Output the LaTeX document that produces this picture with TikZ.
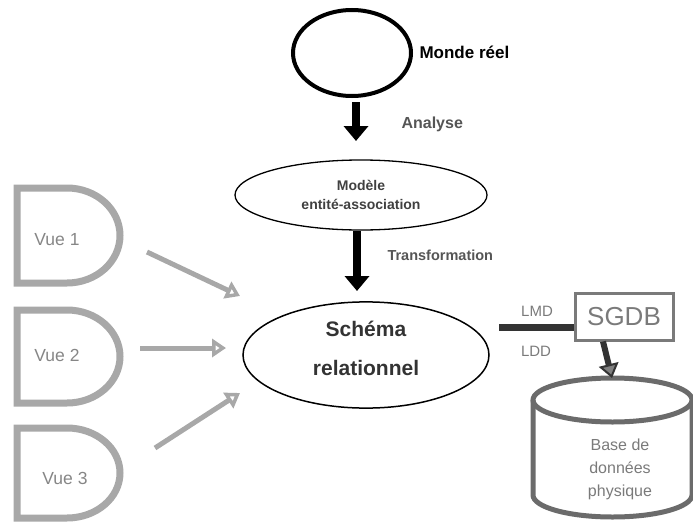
\documentclass[tikz,border=0pt]{standalone}
\usepackage{fontspec}
\setmainfont{Liberation Sans}
\usetikzlibrary{shapes.geometric,arrows.meta}
\definecolor{vuegray}{HTML}{A8A8A8}
\definecolor{txtgray}{HTML}{555555}
\definecolor{boxgray}{HTML}{7A7A7A}
\definecolor{dbgray}{HTML}{6B6B6B}
\begin{document}
\begin{tikzpicture}[x=1pt, y=-1pt,
  blackarrow/.style={line width=8pt, -{Triangle[length=15pt,width=24pt]}},
  grayarrow/.style={draw=vuegray, line width=5pt, -{Triangle[open,length=14pt,width=18pt,line width=3.5pt]}},
  vuebox/.style={draw=vuegray, line width=7pt},
  vuetext/.style={text=vuegray!80!black, font=\fontsize{17.5}{20}\selectfont}]
\useasboundingbox (0,0) rectangle (693,522);
% monde reel
\node[ellipse, draw, line width=4pt, minimum width=118pt, minimum height=86pt] (monde) at (352,53){};
\node[anchor=west, font=\bfseries\fontsize{17}{20}\selectfont] (mondelbl) at (416,52){Monde réel};
% modele entite-association
\node[ellipse, draw, line width=1.3pt, minimum width=252pt, minimum height=70pt, align=center, text=black!75, font=\bfseries\fontsize{14}{19}\selectfont] (modele) at (361,195){Modèle\\entité-association};
\coordinate (a0) at (356,102);
\coordinate (a1) at (356,141);
\draw[blackarrow](a0) -- (a1);
\node[anchor=west, text=txtgray, font=\bfseries\fontsize{16}{18}\selectfont] (analyse) at (398,124){Analyse};
% schema relationnel
\node[ellipse, draw, line width=1.5pt, minimum width=246pt, minimum height=106pt, align=center, text depth=14pt, text=black!80, font=\bfseries\fontsize{21}{39}\selectfont] (schema) at (366,355){Schéma\\relationnel};
\coordinate (t0) at (357,231);
\coordinate (t1) at (357,291);
\draw[blackarrow](t0) -- (t1);
\node[anchor=west, text=txtgray, font=\bfseries\fontsize{14.5}{18}\selectfont] (transfo) at (384,255){Transformation};
% vues
\draw[vuebox] (17,188) -- (67,188) arc[start angle=90, end angle=-90, x radius=53pt, y radius=47.5pt] -- (17,283) -- cycle;
\draw[vuebox] (17,310) -- (67,310) arc[start angle=90, end angle=-90, x radius=53pt, y radius=46.5pt] -- (17,403) -- cycle;
\draw[vuebox] (17,428) -- (67,428) arc[start angle=90, end angle=-90, x radius=53pt, y radius=45pt] -- (17,518) -- cycle;
\node[vuetext] (vue1) at (57,240){Vue 1};
\node[vuetext] (vue2) at (57,355){Vue 2};
\node[vuetext] (vue3) at (65,478){Vue 3};
\coordinate (v1a) at (147,252);
\coordinate (v1b) at (240,296);
\coordinate (v2a) at (140,348);
\coordinate (v2b) at (226,348);
\coordinate (v3a) at (155,448);
\coordinate (v3b) at (240,393);
\draw[grayarrow](v1a) -- (v1b);
\draw[grayarrow](v2a) -- (v2b);
\draw[grayarrow](v3a) -- (v3b);
% SGDB
\node[draw=boxgray, line width=3pt, minimum width=98pt, minimum height=47pt, text=boxgray, font=\fontsize{26}{28}\selectfont] (sgdb) at (624,316.5){SGDB};
\coordinate (lmd) at (499,327);
\draw[black!80, line width=7pt](lmd) -- (lmd -| sgdb.west);
\node[text=boxgray, font=\fontsize{15}{18}\selectfont] (lmdlbl) at (537,311){LMD};
\node[text=boxgray, font=\fontsize{15}{18}\selectfont] (lddlbl) at (536,351){LDD};
% base de donnees
\draw[dbgray, line width=5pt] (612.5,400) ellipse[x radius=79.5pt, y radius=22pt];
\draw[dbgray, line width=5pt] (533,400) -- (533,495) arc[start angle=180, end angle=360, x radius=79.5pt, y radius=22pt] -- (692,400);
\node[align=center, text=boxgray, font=\fontsize{16}{23}\selectfont] (base) at (620,469){Base de\\données\\physique};
\coordinate (b0) at (612,378);
\draw[black!80, line width=6pt, -{Triangle[length=14pt,width=20pt,fill=gray,line width=2pt]}](sgdb.south -| 603,0) -- (b0);
\end{tikzpicture}
\end{document}
